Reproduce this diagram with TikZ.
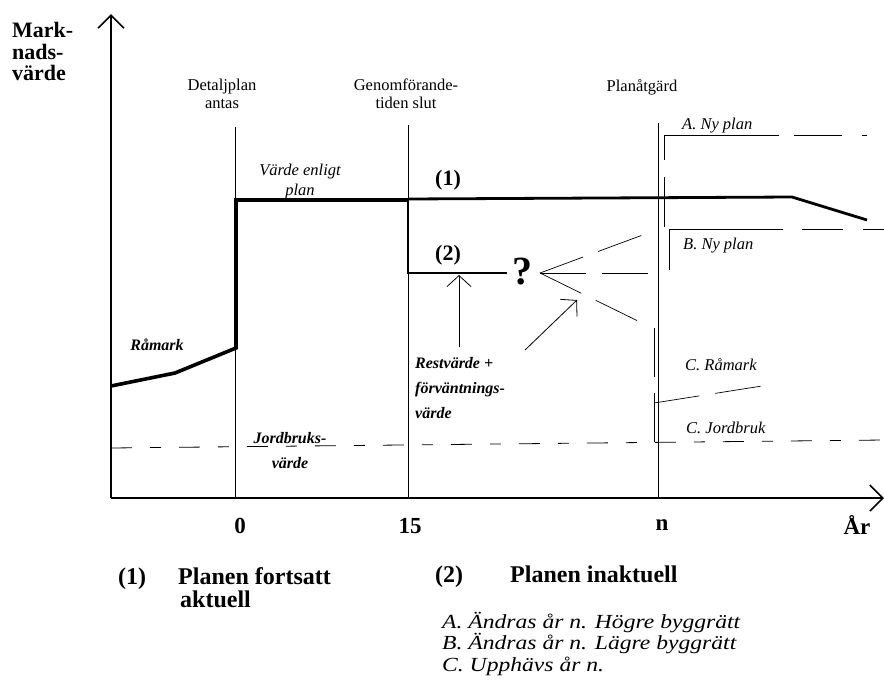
\documentclass[tikz,border=0pt]{standalone}
\usepackage{fontspec}
\setmainfont{Liberation Serif}
\newfontfamily\widefont[FakeStretch=1.18]{Liberation Serif}
\usetikzlibrary{arrows.meta}
\tikzset{
  thinline/.style={line width=0.8pt},
  plotline/.style={line width=3.6pt, line join=miter},
  planline/.style={line width=2.8pt, line join=miter},
  ray/.style={line width=0.7pt, dash pattern=on 46pt off 16pt},
  jordline/.style={line width=0.8pt, dash pattern=on 21pt off 18pt on 11pt off 18pt},
  axis/.style={line width=2.2pt, -{Straight Barb[length=13pt,width=26pt,line width=1.6pt]}},
  pointer/.style={line width=0.8pt, -{Straight Barb[length=11pt,width=24pt,line width=0.8pt]}},
  lbl/.style={font=\fontsize{16.5}{18}\selectfont, align=center, inner sep=0pt},
  ital/.style={font=\fontsize{16.5}{20}\selectfont\itshape, align=center, inner sep=0pt},
  bital/.style={font=\fontsize{16}{25}\selectfont\bfseries\itshape, inner sep=0pt},
  bigb/.style={font=\fontsize{22}{21.5}\selectfont\bfseries, align=left, inner sep=0pt},
  tick/.style={font=\fontsize{23}{23}\selectfont\bfseries, inner sep=0pt},
  legend/.style={font=\fontsize{24}{23.5}\selectfont\bfseries, align=left, inner sep=0pt, anchor=base west},
  cases/.style={font=\widefont\fontsize{20}{21.5}\selectfont\itshape, align=left, inner sep=0pt, anchor=base west}
}
\begin{document}
\begin{tikzpicture}[x=1pt,y=-1pt]
  \useasboundingbox (0,0) rectangle (884,681);
  \coordinate (O) at (111,498);
  \coordinate (ytop) at (111,14);
  \coordinate (xend) at (884,498);
  \coordinate (q) at (540,273);
  % axes and time lines
  \draw[axis] (O) -- (ytop);
  \draw[axis] (O) -- (xend);
  \draw[thinline] (235,127) -- (235,498);
  \draw[thinline] (408,125) -- (408,498);
  \draw[thinline] (658,123) -- (658,498);
  \draw[jordline] (111,448) -- (884,440);
  % value paths
  \draw[plotline] (111,386) -- (175,373) -- (236,348) -- (236,200) -- (408,200);
  \draw[planline] (408,199) -- (792,197) -- (867,220);
  \draw[planline] (408,200) -- (408,273) -- (507,273);
  \begin{scope}[ray]
    \draw (q) -- (648,233);
    \draw (q) -- (655,273);
    \draw (q) -- (642,323);
    \draw[dash pattern=on 50pt off 17pt on 140pt off 15pt on 48pt off 20pt on 5pt off 20pt]
      (664,227) -- (664,135) -- (884,135);
    \draw[dash pattern=on 155pt off 19pt on 41pt off 20pt]
      (669,270) -- (669,229) -- (884,229);
    \draw[dash pattern=on 49pt off 16pt] (654,328) -- (654,442);
    \draw (654,403) -- (762,386);
  \end{scope}
  \draw[pointer] (459,347) -- (459,275);
  \draw[pointer] (525,350) -- (577,300);
  % texts
  \draw
    (12,51.5) node[bigb, anchor=west] (markvarde) {Mark-\\nads-\\värde}
    (222,94) node[lbl] (detaljplan) {Detaljplan\\antas}
    (406,94) node[lbl] (genomforande) {Genomförande-\\tiden slut}
    (642,87) node[lbl] (planatgard) {Planåtgärd}
    (300,182) node[ital] (enligtplan) {Värde enligt\\plan}
    (448,180) node[bigb] (etta) {(1)}
    (448,255) node[bigb] (tvaa) {(2)}
    (522,284) node[font=\fontsize{40}{40}\selectfont\bfseries, inner sep=0pt, anchor=base] (fraga) {?}
    (157,345) node[bital] (ramark) {Råmark}
    (290,451) node[bital, align=center] (jordbruk) {Jordbruks-\\värde}
    (415,388) node[bital, align=left, anchor=west] (restvarde) {Restvärde +\\förväntnings-\\värde};
  \draw
    (682,126) node[ital, anchor=west] (nyplanA) {A. Ny plan}
    (683,246) node[ital, anchor=west] (nyplanB) {B. Ny plan}
    (685,365) node[ital, anchor=west] (ramarkC) {C. Råmark}
    (686,428) node[ital, anchor=west] (jordbrukC) {C. Jordbruk};
  \draw
    (240,526) node[tick] (t0) {0}
    (410,526) node[tick] (t15) {15}
    (662,525) node[tick] (tn) {n}
    (857,525) node[tick] (tar) {År};
  \draw
    (118,584) node[legend] (leg1) {(1)}
    (178,607.5) node[legend] (fortsatt) {Planen fortsatt\\\hspace{2pt}aktuell}
    (435,582) node[legend] (leg2) {(2)}
    (510,582) node[legend] (inaktuell) {Planen inaktuell}
    (442,671) node[cases] (fall) {A. Ändras år n. Högre byggrätt\\B. Ändras år n. Lägre byggrätt\\C. Upphävs år n.};
\end{tikzpicture}
\end{document}
